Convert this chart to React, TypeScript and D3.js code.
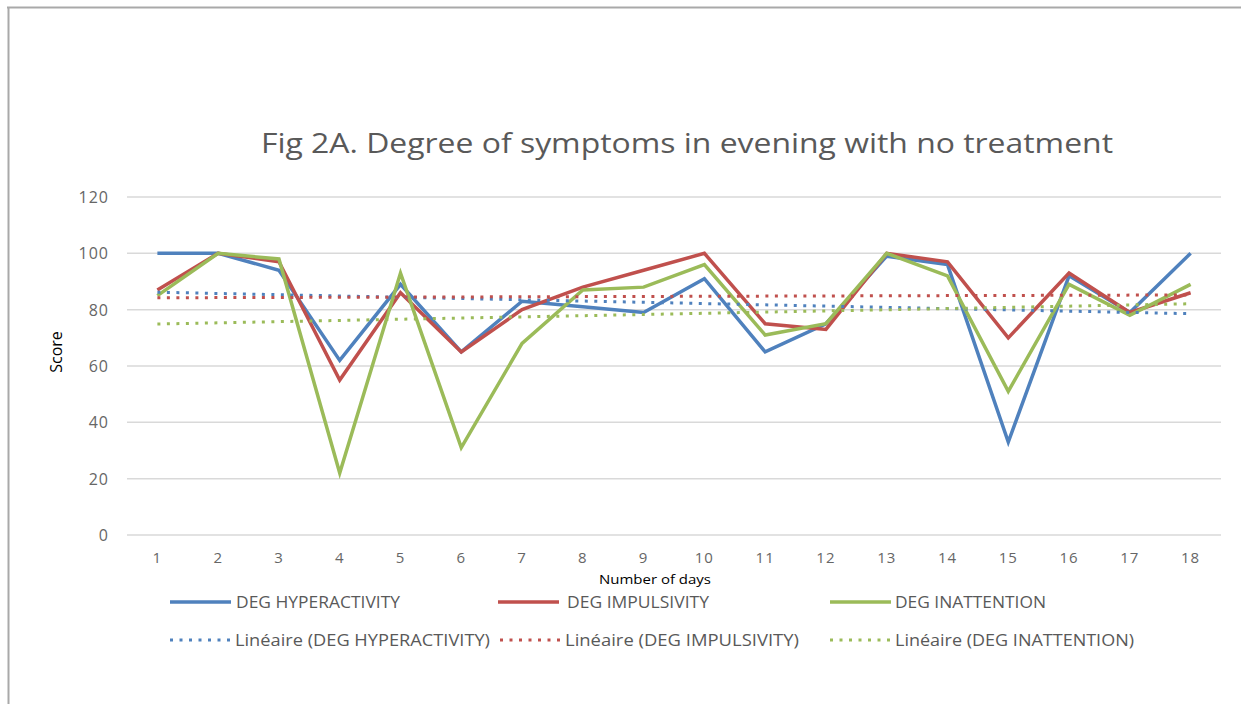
import React from "react";
import * as d3 from "d3";

const days = [1, 2, 3, 4, 5, 6, 7, 8, 9, 10, 11, 12, 13, 14, 15, 16, 17, 18];
const hyperactivity = [100, 100, 94, 62, 89, 65, 83, 81, 79, 91, 65, 75, 99, 96, 33, 92, 79, 100];
const impulsivity = [87, 100, 97, 55, 86, 65, 80, 88, 94, 100, 75, 73, 100, 97, 70, 93, 79, 86];
const inattention = [85, 100, 98, 22, 93, 31, 68, 87, 88, 96, 71, 75, 100, 92, 51, 89, 78, 89];
const yTicks = [0, 20, 40, 60, 80, 100, 120];

const seriesNames = ["DEG HYPERACTIVITY", "DEG IMPULSIVITY", "DEG INATTENTION"];
const seriesColors = ["#4F81BD", "#C0504D", "#9BBB59"];
const seriesValues = [hyperactivity, impulsivity, inattention];

const W = 1241;
const H = 704;
const plotLeft = 127;
const plotRight = 1221;
const plotTop = 197;
const plotBottom = 535;

function regression(ys: number[]) {
  const n = ys.length;
  const xs = days;
  const mx = d3.mean(xs) as number;
  const my = d3.mean(ys) as number;
  let sxy = 0;
  let sxx = 0;
  for (let i = 0; i < n; i++) {
    sxy += (xs[i] - mx) * (ys[i] - my);
    sxx += (xs[i] - mx) * (xs[i] - mx);
  }
  const b = sxy / sxx;
  const a = my - b * mx;
  return (x: number) => a + b * x;
}

export default function App() {
  const x = d3
    .scaleBand<number>()
    .domain(days)
    .range([plotLeft, plotRight])
    .paddingInner(0)
    .paddingOuter(0);
  const cx = (d: number) => (x(d) as number) + x.bandwidth() / 2;
  const y = d3.scaleLinear().domain([0, 120]).range([plotBottom, plotTop]);

  const line = d3
    .line<number>()
    .x((_, i) => cx(days[i]))
    .y((v) => y(v));

  const font = "'Open Sans', 'Liberation Sans', sans-serif";

  const legendRow1 = [
    { x0: 170, tx: 236, tl: 164 },
    { x0: 498, tx: 567, tl: 142 },
    { x0: 830, tx: 895, tl: 151 },
  ];
  const legendRow2 = [
    { x0: 170, tx: 235, tl: 255 },
    { x0: 500, tx: 565, tl: 234 },
    { x0: 830, tx: 895, tl: 239 },
  ];

  return (
    <svg
      width={W}
      height={H}
      style={{ position: "absolute", left: 0, top: 0, background: "#fff" }}
    >
      <rect x={0} y={0} width={W} height={H} fill="#fff" />
      {/* border */}
      <line x1={7} y1={7.5} x2={W} y2={7.5} stroke="#a9a9a9" strokeWidth={2} />
      <line x1={8.5} y1={7} x2={8.5} y2={H} stroke="#a9a9a9" strokeWidth={2} />

      {/* title */}
      <text
        x={261}
        y={153}
        fontFamily={font}
        fontSize={27}
        fill="#595959"
        textLength={852}
        lengthAdjust="spacingAndGlyphs"
      >
        Fig 2A. Degree of symptoms in evening with no treatment
      </text>

      {/* gridlines */}
      {yTicks.map((t) => (
        <line
          key={t}
          x1={plotLeft}
          x2={plotRight}
          y1={y(t)}
          y2={y(t)}
          stroke="#d9d9d9"
          strokeWidth={1.5}
        />
      ))}

      {/* y ticks */}
      {yTicks.map((t) => (
        <text
          key={t}
          x={109}
          y={y(t) + 6}
          textAnchor="end"
          fontFamily={font}
          fontSize={16}
          fill="#666"
          letterSpacing={1}
        >
          {t}
        </text>
      ))}

      {/* x ticks */}
      {days.map((d) => (
        <text
          key={d}
          x={cx(d)}
          y={563}
          textAnchor="middle"
          fontFamily={font}
          fontSize={15}
          fill="#666"
          letterSpacing={1}
        >
          {d}
        </text>
      ))}

      {/* axis titles */}
      <text
        transform={`translate(62,352) rotate(-90)`}
        textAnchor="middle"
        fontFamily={font}
        fontSize={16}
        fill="#000"
      >
        Score
      </text>
      <text
        x={599}
        y={584}
        fontFamily={font}
        fontSize={13.5}
        fill="#000"
        textLength={112}
        lengthAdjust="spacingAndGlyphs"
      >
        Number of days
      </text>

      {/* series */}
      {seriesValues.map((vals, i) => (
        <path
          key={i}
          d={line(vals) as string}
          fill="none"
          stroke={seriesColors[i]}
          strokeWidth={3.5}
          strokeLinejoin="miter"
        />
      ))}

      {/* trendlines */}
      {seriesValues.map((vals, i) => {
        const f = regression(vals);
        return (
          <line
            key={i}
            x1={cx(days[0])}
            x2={cx(days[days.length - 1])}
            y1={y(f(days[0]))}
            y2={y(f(days[days.length - 1]))}
            stroke={seriesColors[i]}
            strokeWidth={3}
            strokeDasharray="3 6.5"
          />
        );
      })}

      {/* legend */}
      {seriesNames.map((name, i) => (
        <g key={"l1" + i}>
          <line
            x1={legendRow1[i].x0}
            x2={legendRow1[i].x0 + 61}
            y1={602}
            y2={602}
            stroke={seriesColors[i]}
            strokeWidth={3.5}
          />
          <text
            x={legendRow1[i].tx}
            y={608}
            fontFamily={font}
            fontSize={15.5}
            fill="#595959"
            textLength={legendRow1[i].tl}
            lengthAdjust="spacingAndGlyphs"
          >
            {name}
          </text>
        </g>
      ))}
      {seriesNames.map((name, i) => (
        <g key={"l2" + i}>
          <line
            x1={legendRow2[i].x0}
            x2={legendRow2[i].x0 + 61}
            y1={640}
            y2={640}
            stroke={seriesColors[i]}
            strokeWidth={3}
            strokeDasharray="3 6.5"
          />
          <text
            x={legendRow2[i].tx}
            y={646}
            fontFamily={font}
            fontSize={15.5}
            fill="#595959"
            textLength={legendRow2[i].tl}
            lengthAdjust="spacingAndGlyphs"
          >
            {`Linéaire  (${name})`}
          </text>
        </g>
      ))}
    </svg>
  );
}
